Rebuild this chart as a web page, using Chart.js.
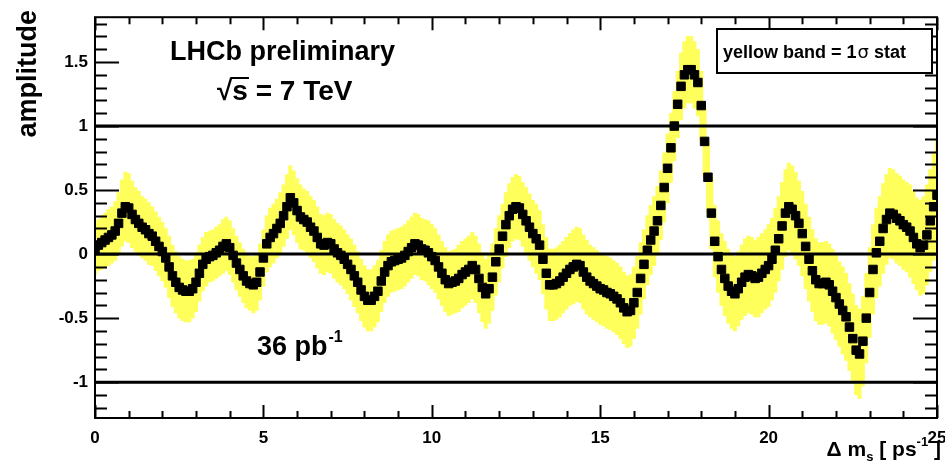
<!DOCTYPE html>
<html><head><meta charset="utf-8">
<script src="https://cdn.jsdelivr.net/npm/chart.js@4"></script>
<style>html,body{margin:0;padding:0;background:#fff}</style>
</head><body>
<canvas id="c" width="945" height="468"></canvas>
<script>
// Δm_s scan points (ps^-1), step 0.1 from 0 to 25
const dmStart = 0, dmStep = 0.1;
// amplitude, one value per scan point (rows = 0.0..0.9, 1.0..1.9, ...)
const amplitude = [
  0.04,0.07,0.09,0.11,0.13,0.15,0.18,0.24,0.32,0.37,
  0.36,0.31,0.27,0.24,0.21,0.19,0.16,0.14,0.10,0.06,
  0.02,-0.03,-0.10,-0.17,-0.22,-0.26,-0.28,-0.29,-0.29,-0.27,
  -0.22,-0.15,-0.08,-0.04,-0.02,-0.01,0.01,0.03,0.06,0.08,
  0.05,-0.01,-0.07,-0.12,-0.17,-0.21,-0.23,-0.24,-0.22,-0.14,
  -0.03,0.08,0.13,0.16,0.20,0.24,0.30,0.37,0.44,0.40,
  0.34,0.29,0.27,0.25,0.21,0.18,0.13,0.08,0.07,0.09,
  0.08,0.04,0.01,-0.01,-0.04,-0.08,-0.12,-0.17,-0.22,-0.28,
  -0.33,-0.36,-0.36,-0.33,-0.29,-0.21,-0.14,-0.09,-0.06,-0.05,
  -0.04,-0.03,-0.01,0.02,0.05,0.08,0.07,0.04,0.03,0.01,
  -0.02,-0.05,-0.10,-0.15,-0.20,-0.23,-0.22,-0.21,-0.19,-0.16,
  -0.14,-0.12,-0.09,-0.12,-0.19,-0.26,-0.31,-0.27,-0.18,-0.06,
  0.04,0.14,0.23,0.30,0.35,0.37,0.36,0.31,0.26,0.21,
  0.16,0.12,0.07,-0.04,-0.15,-0.24,-0.24,-0.23,-0.21,-0.18,
  -0.15,-0.12,-0.10,-0.08,-0.09,-0.14,-0.18,-0.21,-0.23,-0.25,
  -0.27,-0.28,-0.30,-0.31,-0.33,-0.35,-0.38,-0.42,-0.45,-0.44,
  -0.38,-0.30,-0.19,-0.08,0.03,0.11,0.18,0.26,0.38,0.52,
  0.67,0.83,1.00,1.17,1.31,1.40,1.44,1.44,1.40,1.34,
  1.16,0.88,0.60,0.32,0.10,-0.02,-0.12,-0.19,-0.25,-0.29,
  -0.31,-0.27,-0.22,-0.18,-0.16,-0.17,-0.19,-0.18,-0.15,-0.12,
  -0.09,-0.04,0.03,0.12,0.22,0.32,0.37,0.35,0.30,0.24,
  0.16,0.06,-0.04,-0.13,-0.20,-0.23,-0.23,-0.22,-0.24,-0.29,
  -0.34,-0.39,-0.44,-0.49,-0.57,-0.66,-0.75,-0.78,-0.68,-0.50,
  -0.30,-0.12,0.01,0.10,0.20,0.27,0.32,0.31,0.28,0.26,
  0.23,0.21,0.18,0.13,0.08,0.05,0.07,0.15,0.26,0.37,
  0.46
];
// 1 sigma statistical error per scan point (yellow band half-height)
const sigmaStat = [
  0.20,0.20,0.21,0.21,0.22,0.22,0.23,0.24,0.26,0.27,
  0.27,0.26,0.25,0.25,0.24,0.24,0.24,0.23,0.23,0.23,
  0.23,0.23,0.24,0.24,0.24,0.24,0.24,0.24,0.24,0.23,
  0.23,0.22,0.21,0.21,0.20,0.20,0.20,0.20,0.21,0.21,
  0.21,0.21,0.21,0.21,0.21,0.21,0.21,0.22,0.22,0.22,
  0.22,0.22,0.23,0.23,0.23,0.24,0.24,0.25,0.25,0.25,
  0.25,0.25,0.24,0.24,0.24,0.24,0.24,0.23,0.23,0.23,
  0.23,0.23,0.23,0.23,0.23,0.23,0.24,0.24,0.24,0.24,
  0.24,0.24,0.24,0.24,0.24,0.24,0.24,0.24,0.24,0.24,
  0.24,0.24,0.24,0.24,0.24,0.24,0.24,0.24,0.24,0.25,
  0.25,0.25,0.25,0.25,0.25,0.25,0.25,0.25,0.26,0.26,
  0.26,0.26,0.26,0.26,0.27,0.27,0.27,0.27,0.26,0.26,
  0.26,0.25,0.25,0.25,0.25,0.25,0.25,0.25,0.26,0.26,
  0.26,0.27,0.27,0.27,0.28,0.28,0.28,0.28,0.28,0.28,
  0.28,0.28,0.29,0.29,0.29,0.29,0.29,0.28,0.28,0.28,
  0.28,0.28,0.28,0.28,0.28,0.28,0.28,0.28,0.28,0.28,
  0.28,0.28,0.28,0.27,0.27,0.27,0.27,0.27,0.27,0.27,
  0.27,0.27,0.27,0.26,0.26,0.26,0.26,0.26,0.26,0.26,
  0.27,0.27,0.27,0.28,0.28,0.28,0.28,0.29,0.29,0.29,
  0.29,0.29,0.29,0.30,0.30,0.30,0.30,0.31,0.31,0.31,
  0.32,0.32,0.33,0.33,0.34,0.34,0.34,0.34,0.34,0.33,
  0.33,0.33,0.33,0.32,0.32,0.32,0.32,0.32,0.32,0.33,
  0.33,0.33,0.34,0.34,0.34,0.35,0.35,0.35,0.35,0.35,
  0.35,0.35,0.35,0.35,0.35,0.35,0.35,0.35,0.35,0.35,
  0.35,0.35,0.36,0.36,0.36,0.37,0.38,0.39,0.40,0.42,
  0.44
];
// reference amplitude levels drawn as horizontal lines
const refLevels = [1, 0, -1];
// axis ranges / ticks
const xRange = [0, 25];
const yRange = [-1.28, 1.85];
const xMajorStep = 5, xMinorStep = 1;
const yMajorStep = 0.5, yMinorStep = 0.1;

const dm = amplitude.map((_, i) => +(dmStart + i * dmStep).toFixed(1));

const FONT = '"Liberation Sans", Arial, Helvetica, sans-serif';

const framePlugin = {
  id: 'rootFrame',
  afterDatasetsDraw(chart) {
    const {ctx, chartArea: a, scales: {x, y}} = chart;
    ctx.save();
    ctx.strokeStyle = '#000';
    ctx.lineWidth = 2;
    ctx.strokeRect(a.left, a.top, a.right - a.left, a.bottom - a.top);
    ctx.beginPath();
    const nx = Math.round((xRange[1] - xRange[0]) / xMinorStep);
    for (let k = 0; k <= nx; k++) {
      const v = xRange[0] + k * xMinorStep;
      const px = Math.round(x.getPixelForValue(v)) + 0.5;
      const len = (Math.abs(v / xMajorStep - Math.round(v / xMajorStep)) < 1e-6) ? 13 : 7;
      ctx.moveTo(px, a.bottom); ctx.lineTo(px, a.bottom - len);
      ctx.moveTo(px, a.top); ctx.lineTo(px, a.top + len);
    }
    const k0 = Math.ceil(yRange[0] / yMinorStep - 1e-6), k1 = Math.floor(yRange[1] / yMinorStep + 1e-6);
    for (let k = k0; k <= k1; k++) {
      const v = k * yMinorStep;
      const py = Math.round(y.getPixelForValue(v)) + 0.5;
      const len = (Math.abs(v / yMajorStep - Math.round(v / yMajorStep)) < 1e-6) ? 24 : 12;
      ctx.moveTo(a.left, py); ctx.lineTo(a.left + len, py);
      ctx.moveTo(a.right, py); ctx.lineTo(a.right - len, py);
    }
    ctx.lineWidth = 2;
    ctx.stroke();
    ctx.restore();
  }
};

const textPlugin = {
  id: 'rootText',
  afterDraw(chart) {
    const ctx = chart.ctx;
    ctx.save();
    ctx.fillStyle = '#000';
    ctx.textBaseline = 'alphabetic';
    ctx.textAlign = 'left';
    // LHCb preliminary
    ctx.font = 'bold 27px ' + FONT;
    ctx.fillText('LHCb preliminary', 170, 60);
    // sqrt(s) = 7 TeV
    ctx.font = 'bold 28px ' + FONT;
    const sq = '√';
    ctx.fillText(sq, 217, 100);
    const wSq = ctx.measureText(sq).width;
    ctx.fillText('s = 7 TeV', 217 + wSq, 100);
    const wS = ctx.measureText('s').width;
    ctx.fillRect(217 + wSq - 2, 77, wS + 3, 2);
    // 36 pb-1
    ctx.font = 'bold 27px ' + FONT;
    ctx.fillText('36 pb', 257, 355);
    const w36 = ctx.measureText('36 pb').width;
    ctx.font = 'bold 16px ' + FONT;
    ctx.fillText('-1', 257 + w36 + 1, 342);
    // legend box
    ctx.lineWidth = 2;
    ctx.strokeStyle = '#000';
    ctx.fillStyle = '#fff';
    ctx.fillRect(717, 29, 215, 44);
    ctx.strokeRect(717, 29, 215, 44);
    ctx.fillStyle = '#000';
    ctx.font = 'bold 18px ' + FONT;
    let t1 = 'yellow band = 1';
    ctx.fillText(t1, 723, 58);
    let xx = 723 + ctx.measureText(t1).width;
    ctx.font = '18px "DejaVu Sans", ' + FONT;
    ctx.fillText('σ', xx + 1, 58);
    xx += ctx.measureText('σ').width + 1;
    ctx.font = 'bold 18px ' + FONT;
    ctx.fillText(' stat', xx, 58);
    // y title
    ctx.save();
    ctx.font = 'bold 27px ' + FONT;
    ctx.translate(36, 10);
    ctx.rotate(-Math.PI / 2);
    ctx.textAlign = 'right';
    ctx.fillText('amplitude', 0, 0);
    ctx.restore();
    // x title: Δ m_s [ ps^-1 ]
    const parts = [
      {t: 'Δ m', f: 'bold 21px ', dy: 0},
      {t: 's', f: 'bold 13px ', dy: 5},
      {t: ' [ ps', f: 'bold 21px ', dy: 0},
      {t: '-1', f: 'bold 13px ', dy: -10},
      {t: ' ]', f: 'bold 21px ', dy: 0}
    ];
    let total = 0;
    parts.forEach(p => { ctx.font = p.f + FONT; p.w = ctx.measureText(p.t).width; total += p.w; });
    let px = 941 - total;
    parts.forEach(p => { ctx.font = p.f + FONT; ctx.fillText(p.t, px, 456 + p.dy); px += p.w; });
    ctx.restore();
  }
};

new Chart(document.getElementById('c').getContext('2d'), {
  type: 'line',
  data: {
    datasets: [
      {
        type: 'bar',
        label: 'stat band',
        data: dm.map((x, i) => ({x, y: [amplitude[i] - sigmaStat[i], amplitude[i] + sigmaStat[i]]})),
        backgroundColor: '#ffff5c',
        borderWidth: 0,
        barPercentage: 1.0,
        categoryPercentage: 1.0,
        order: 3
      },
      ...refLevels.map(L => ({
        type: 'line',
        label: 'level ' + L,
        data: [{x: xRange[0], y: L}, {x: xRange[1], y: L}],
        borderColor: '#000',
        borderWidth: 3,
        pointRadius: 0,
        order: 2
      })),
      {
        type: 'line',
        label: 'amplitude',
        data: dm.map((x, i) => ({x, y: amplitude[i]})),
        showLine: false,
        pointStyle: 'rect',
        pointRadius: 6,
        pointBackgroundColor: '#000',
        pointBorderColor: '#000',
        pointBorderWidth: 1,
        order: 1
      }
    ]
  },
  options: {
    responsive: false,
    animation: false,
    devicePixelRatio: 1,
    layout: {padding: {left: 0, top: 10, right: 8, bottom: 0}},
    plugins: {legend: {display: false}, tooltip: {enabled: false}},
    scales: {
      x: {
        type: 'linear', min: xRange[0], max: xRange[1], offset: false,
        grid: {display: false, drawTicks: false}, border: {display: false},
        ticks: {stepSize: xMajorStep, color: '#000', padding: 10, maxRotation: 0, autoSkip: false,
                font: {family: FONT, weight: 'bold', size: 17}, callback: v => String(v)},
        afterFit(s) { s.height = 50; s.paddingLeft = 0; s.paddingRight = 0; }
      },
      y: {
        type: 'linear', min: yRange[0], max: yRange[1],
        grid: {display: false, drawTicks: false}, border: {display: false},
        ticks: {stepSize: yMajorStep, includeBounds: false, color: '#000', padding: 7,
                font: {family: FONT, weight: 'bold', size: 17}, callback: v => String(v)},
        afterFit(s) { s.width = 95; }
      }
    }
  },
  plugins: [framePlugin, textPlugin]
});
</script>
</body></html>
